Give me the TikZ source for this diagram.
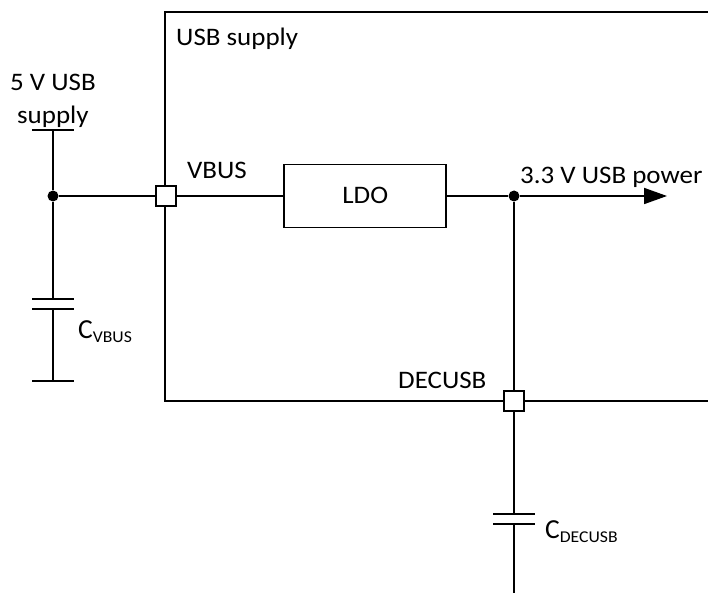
\documentclass[tikz,border=0pt]{standalone}
\usepackage{fontspec}
\setmainfont[FakeStretch=1.07]{Carlito}
\newfontfamily\capfont{Carlito}
\usetikzlibrary{arrows.meta}
\newcommand{\capsub}[1]{{\capfont\fontsize{27.5}{30}\selectfont C\raisebox{-3.7pt}{\rmfamily\fontsize{16.5}{18}\selectfont #1}}}
\tikzset{
  wire/.style={draw=black,line width=1.8pt},
  pin/.style={draw=black,fill=white,line width=1.8pt,minimum width=20pt,minimum height=20pt,inner sep=0pt},
  dotj/.style={circle,fill=black,inner sep=0pt,minimum size=11pt},
  block/.style={draw=black,line width=1.8pt,font=\fontsize{25.2}{30}\selectfont},
  lab/.style={inner sep=0pt,anchor=base west,font=\fontsize{25.2}{30}\selectfont}
}
\begin{document}
\begin{tikzpicture}[x=1pt,y=-1pt]
\useasboundingbox (0,0) rectangle (708,593);
\coordinate (bTL) at (165,12);
\coordinate (bTR) at (708,12);
\coordinate (bBL) at (165,401);
\coordinate (bBR) at (708,401);
\draw[wire] (bTR) -- (bTL) -- (bBL) -- (bBR);
\node[dotj] (j1) at (53,196) {};
\node[dotj] (j2) at (514,196) {};
\node[pin] (vbus) at (166,196) {};
\node[pin] (dec) at (514,401) {};
\node[block,minimum width=162pt,minimum height=63pt,text height=16pt,text depth=0pt] (ldo) at (365.3,196) {LDO};
\coordinate (t1a) at (32,130); \coordinate (t1b) at (74,130); \coordinate (t1) at (53,130);
\coordinate (c1a) at (32,299); \coordinate (c1b) at (74,299); \coordinate (c1t) at (53,299);
\coordinate (c2a) at (32,309); \coordinate (c2b) at (74,309); \coordinate (c2t) at (53,309);
\coordinate (g1a) at (32,381); \coordinate (g1b) at (74,381); \coordinate (g1) at (53,381);
\coordinate (d1a) at (493,514); \coordinate (d1b) at (535,514); \coordinate (d1t) at (514,514);
\coordinate (d2a) at (493,524); \coordinate (d2b) at (535,524); \coordinate (d2t) at (514,524);
\coordinate (dend) at (514,593);
\coordinate (out) at (667,196);
\draw[wire] (t1a) -- (t1b);
\draw[wire] (t1) -- (j1) -- (c1t);
\draw[wire] (c1a) -- (c1b);
\draw[wire] (c2a) -- (c2b);
\draw[wire] (c2t) -- (g1);
\draw[wire] (g1a) -- (g1b);
\draw[wire] (j1) -- (vbus);
\draw[wire] (vbus) -- (ldo);
\draw[wire] (ldo) -- (j2);
\draw[wire,-{Triangle[length=23pt,width=16pt]}] (j2) -- (out);
\draw[wire] (j2) -- (dec);
\draw[wire] (dec) -- (d1t);
\draw[wire] (d1a) -- (d1b);
\draw[wire] (d2a) -- (d2b);
\draw[wire] (d2t) -- (dend);
\node[pin] at (vbus) {};
\node[pin] at (dec) {};
\node[lab] (l1) at (176,46) {USB supply};
\node[lab] (l2) at (10,91) {5 V USB};
\node[lab] (l3) at (17,124) {supply};
\node[lab] (l4) at (187,178.5) {VBUS};
\node[lab] (l5) at (520,184) {3.3 V USB power};
\node[lab] (l6) at (398,388) {DECUSB};
\node[lab] (l7) at (78,338.5) {\capsub{VBUS}};
\node[lab] (l8) at (545,538.5) {\capsub{DECUSB}};
\end{tikzpicture}
\end{document}
